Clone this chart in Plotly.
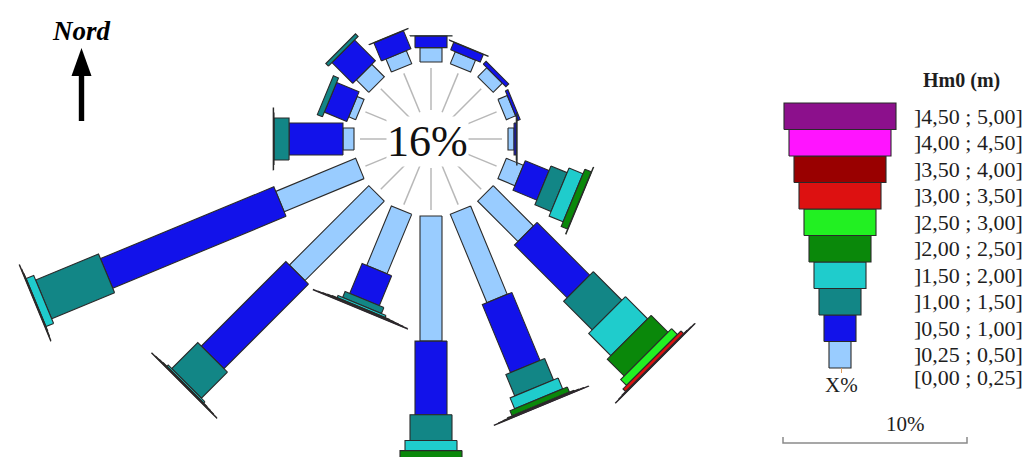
import math
import plotly.graph_objects as go

# Wave rose: occurrence (%) of significant wave height Hm0 by incoming direction
directions = [0, 22.5, 45, 67.5, 90, 112.5, 135, 157.5,
              180, 202.5, 225, 247.5, 270, 292.5, 315, 337.5]

class_labels = ["]0,25 ; 0,50]", "]0,50 ; 1,00]", "]1,00 ; 1,50]", "]1,50 ; 2,00]",
                "]2,00 ; 2,50]", "]2,50 ; 3,00]", "]3,00 ; 3,50]", "]3,50 ; 4,00]",
                "]4,00 ; 4,50]", "]4,50 ; 5,00]"]
calm_label = "[0,00 ; 0,25]"
calm_pct = 16
scale_pct = 10

h_025_050 = [0.78, 0.70, 0.70, 0.55, 0.33, 1.00, 3.10, 5.20, 6.80, 3.50, 6.10, 4.70, 0.60, 0.41, 0.96, 0.77]
h_050_100 = [0.63, 0.45, 0.22, 0.15, 0.12, 1.40, 4.05, 4.00, 4.00, 1.76, 6.50, 10.20, 2.93, 1.32, 1.60, 1.06]
h_100_150 = [0.02, 0.02, 0.00, 0.00, 0.02, 0.95, 2.20, 1.26, 1.40, 0.35, 2.00, 3.70, 0.82, 0.30, 0.20, 0.02]
h_150_200 = [0.00, 0.00, 0.00, 0.00, 0.02, 0.82, 1.70, 0.64, 0.55, 0.12, 0.10, 0.45, 0.02, 0.00, 0.00, 0.00]
h_200_250 = [0.00, 0.00, 0.00, 0.00, 0.00, 0.38, 1.30, 0.30, 0.45, 0.03, 0.02, 0.02, 0.02, 0.00, 0.00, 0.00]
h_250_300 = [0.00, 0.00, 0.00, 0.00, 0.00, 0.02, 0.45, 0.05, 0.02, 0.02, 0.02, 0.02, 0.00, 0.00, 0.00, 0.00]
h_300_350 = [0.00, 0.00, 0.00, 0.00, 0.00, 0.00, 0.20, 0.02, 0.00, 0.02, 0.02, 0.02, 0.00, 0.00, 0.00, 0.00]
h_350_400 = [0.00, 0.00, 0.00, 0.00, 0.00, 0.00, 0.02, 0.02, 0.00, 0.02, 0.02, 0.00, 0.00, 0.00, 0.00, 0.00]
h_400_450 = [0.00, 0.00, 0.00, 0.00, 0.00, 0.00, 0.02, 0.02, 0.00, 0.02, 0.00, 0.00, 0.00, 0.00, 0.00, 0.00]
h_450_500 = [0.00, 0.00, 0.00, 0.00, 0.00, 0.00, 0.02, 0.00, 0.00, 0.00, 0.00, 0.00, 0.00, 0.00, 0.00, 0.00]

classes = [h_025_050, h_050_100, h_100_150, h_150_200, h_200_250,
           h_250_300, h_300_350, h_350_400, h_400_450, h_450_500]

# styling
colors = ["#99ccff", "#1212ea", "#128686", "#1fcccc", "#0a880a",
          "#22f022", "#dd1111", "#990000", "#ff14ff", "#8c108c"]
bar_widths = [22, 32, 42, 52, 62, 72, 82, 92, 102, 112]
outline = "#2a2a2a"
serif = "Liberation Serif"
text_col = "#1e1e1e"

# rose geometry (plot units = pixels)
cx, cy = 431, 139
r_calm = 77
px_per_pct = 18.4

fig = go.Figure()

# radial guide lines inside the calm circle
gx, gy = [], []
for d in directions:
    t = math.radians(d)
    ux, uy = math.sin(t), -math.cos(t)
    gx += [cx + 29 * ux, cx + 71 * ux, None]
    gy += [cy + 29 * uy, cy + 71 * uy, None]
fig.add_trace(go.Scatter(x=gx, y=gy, mode="lines",
                         line=dict(color="#b8b8b8", width=1.5), hoverinfo="skip"))

# stacked arms
inner = [r_calm] * len(directions)
for ci, vals in enumerate(classes):
    xs, ys = [], []
    hw = bar_widths[ci] / 2
    for k, d in enumerate(directions):
        v = vals[k]
        if v <= 0:
            continue
        r0 = inner[k]
        r1 = r0 + v * px_per_pct
        inner[k] = r1
        t = math.radians(d)
        ux, uy = math.sin(t), -math.cos(t)
        vx, vy = math.cos(t), math.sin(t)
        pts = [(r0, -hw), (r1, -hw), (r1, hw), (r0, hw), (r0, -hw)]
        for r, s in pts:
            xs.append(cx + r * ux + s * vx)
            ys.append(cy + r * uy + s * vy)
        xs.append(None)
        ys.append(None)
    fig.add_trace(go.Scatter(x=xs, y=ys, mode="lines", fill="toself",
                             fillcolor=colors[ci],
                             line=dict(color=outline, width=1.1),
                             hoverinfo="skip"))

# legend: stacked class boxes, widest on top
lx = 840
box_h = 26.5
top = 103
n = len(classes)
for ci in range(n):
    y1 = top + (n - 1 - ci) * box_h
    y0 = y1 + box_h
    hw = bar_widths[ci] / 2
    fig.add_trace(go.Scatter(x=[lx - hw, lx + hw, lx + hw, lx - hw, lx - hw],
                             y=[y0, y0, y1, y1, y0], mode="lines", fill="toself",
                             fillcolor=colors[ci],
                             line=dict(color=outline, width=1.1),
                             hoverinfo="skip"))
    fig.add_annotation(x=912, y=y1 + box_h / 2, text=class_labels[ci],
                       showarrow=False, xanchor="left", yanchor="middle",
                       font=dict(family=serif, size=22, color=text_col))

fig.add_annotation(x=912, y=377, text=calm_label, showarrow=False,
                   xanchor="left", yanchor="middle",
                   font=dict(family=serif, size=22, color=text_col))
fig.add_annotation(x=961, y=80, text="<b>Hm0 (m)</b>", showarrow=False,
                   font=dict(family=serif, size=20, color=text_col))
fig.add_annotation(x=841, y=385, text="X%", showarrow=False,
                   font=dict(family=serif, size=21, color=text_col))
fig.add_shape(type="line", x0=841.5, x1=841.5, y0=top + n * box_h, y1=top + n * box_h + 5,
              xref="x", yref="y", line=dict(color="#e0a060", width=1))

# scale bar
bar_x0 = 783
bar_x1 = bar_x0 + scale_pct * px_per_pct
fig.add_trace(go.Scatter(x=[bar_x0, bar_x0, bar_x1, bar_x1], y=[437, 443, 443, 437],
                         mode="lines", line=dict(color="#8a8a8a", width=1.5),
                         hoverinfo="skip"))
fig.add_annotation(x=905, y=424, text=f"{scale_pct}%", showarrow=False,
                   font=dict(family=serif, size=21, color=text_col))

# calm percentage in the centre
fig.add_annotation(x=427, y=141, text=f"{calm_pct}%", showarrow=False,
                   bgcolor="white", borderpad=0,
                   font=dict(family=serif, size=44, color="#111111"))

# north arrow
fig.add_annotation(x=81, y=31, text="<b><i>Nord</i></b>", showarrow=False,
                   font=dict(family=serif, size=27, color="black"))
fig.add_shape(type="rect", x0=78.8, x1=84.2, y0=74, y1=121, xref="x", yref="y",
              fillcolor="black", line=dict(width=0))
fig.add_shape(type="path", path="M 81.5 48 L 71.5 76 L 91.5 76 Z", xref="x", yref="y",
              fillcolor="black", line=dict(width=0))

fig.update_layout(
    width=1030, height=457,
    margin=dict(l=0, r=0, t=0, b=0),
    paper_bgcolor="white", plot_bgcolor="white",
    showlegend=False,
    xaxis=dict(range=[0, 1030], visible=False, fixedrange=True),
    yaxis=dict(range=[457, 0], visible=False, fixedrange=True),
)

fig.write_html("out.html")
